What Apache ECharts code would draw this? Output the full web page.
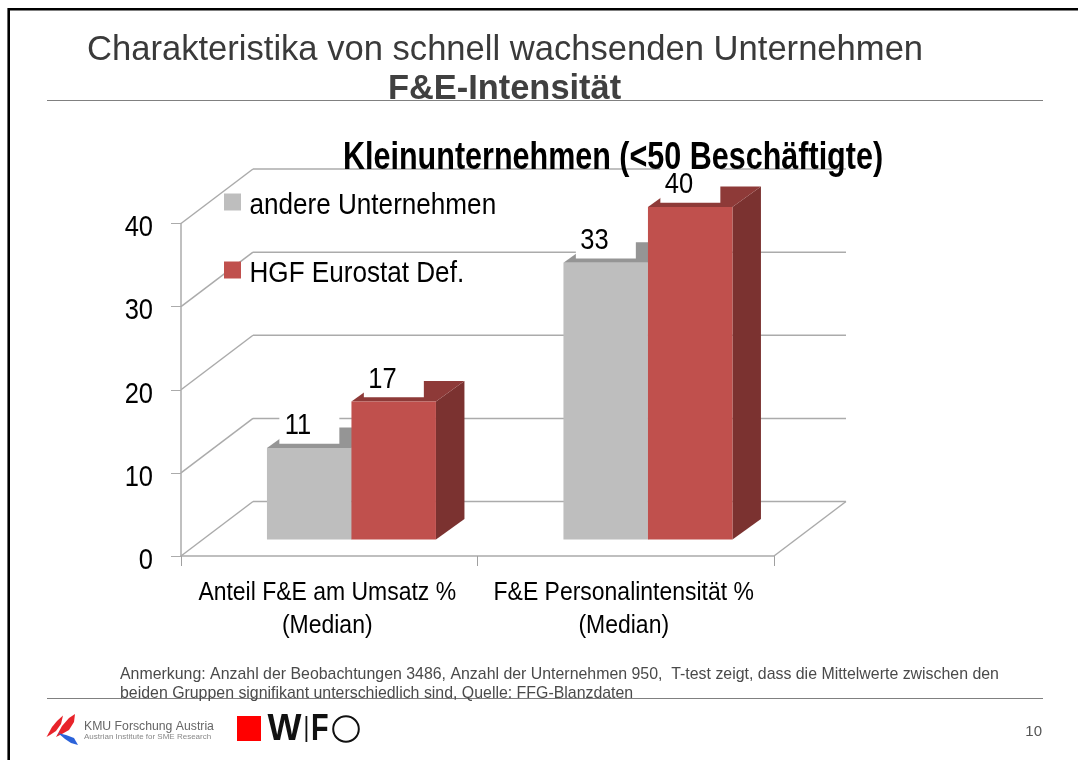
<!DOCTYPE html>
<html><head><meta charset="utf-8">
<style>html,body{margin:0;padding:0;background:#fff}#c{width:1078px;height:760px}</style>
<script src="https://cdn.jsdelivr.net/npm/echarts@6/dist/echarts.min.js"></script>
</head><body><div id="c"></div>
<script>
const categories = ['Anteil F&E am Umsatz %\n(Median)', 'F&E Personalintensität %\n(Median)'];
const seriesNames = ['andere Unternehmen', 'HGF Eurostat Def.'];
const andereUnternehmen = [11, 33.3];
const hgfEurostat = [16.6, 40];
const gridTicks = [0, 10, 20, 30, 40];
const chartTitle = 'Kleinunternehmen (<50 Beschäftigte)';
const SANS = '"Liberation Sans"';
const wall = {dx: 72, dy: -54.5};
const front = {dx: 22.2, dy: -16.5};
const depth = {dx: 28.5, dy: -20.5};
const barFrac = 0.285;

function poly(pts, fill) {
  return {type: 'polygon', shape: {points: pts}, style: {fill: fill}};
}
function barRender(offsetIdx, cFront, cTop, cSide) {
  return function (params, api) {
    const cat = api.value(0), val = api.value(1);
    const base = api.coord([cat, 0]);
    const top = api.coord([cat, val]);
    const w = api.size([1, 0])[0] * barFrac;
    const x0 = base[0] + front.dx + (offsetIdx - 1) * w;
    const x1 = x0 + w;
    const yb = base[1] + front.dy;
    const yt = top[1] + front.dy;
    const lx = x0 + 12.4, ly = yt - 4.3;
    return {type: 'group', children: [
      poly([[x1, yb], [x1 + depth.dx, yb + depth.dy], [x1 + depth.dx, yt + depth.dy], [x1, yt]], cSide),
      poly([[x0, yt], [x1, yt], [x1 + depth.dx, yt + depth.dy], [x0 + depth.dx, yt + depth.dy]], cTop),
      {type: 'rect', shape: {x: x0, y: yt, width: w, height: yb - yt}, style: {fill: cFront}},
      {type: 'rect', shape: {x: lx, y: ly - 36, width: 60, height: 36}, style: {fill: '#fff'}},
      {type: 'text', name: 'keep', x: x0 + 31, y: yt - 22, scaleX: 0.85, style: {x: 0, y: 0, text: String(Math.round(val)), fill: '#000',
        font: '30px ' + SANS, align: 'center', verticalAlign: 'middle'}}
    ]};
  };
}
const chart = echarts.init(document.getElementById('c'), null, {renderer: 'canvas'});
const stroke = {stroke: '#ababab', lineWidth: 1.5};
const T = (x, y, text, font, fill, align, sx) => ({type: 'text', name: 'keep', x: x, y: y, scaleX: sx || 1, style: {text: text, font: font, fill: fill || '#000', align: align || 'left', verticalAlign: 'middle'}});
chart.setOption({
  animation: false,
  backgroundColor: '#fff',
  title: {text: chartTitle, left: 338, top: 134,
    textStyle: {fontFamily: SANS, fontWeight: 'bold', fontSize: 38, color: '#000'}},
  legend: {orient: 'vertical', left: 219, top: 182, itemWidth: 17, itemHeight: 17, itemGap: 38, icon: 'rect',
    data: seriesNames,
    textStyle: {fontFamily: SANS, fontSize: 30, color: '#000', padding: [0, 0, 0, 4]}},
  grid: {left: 181, right: 304, top: 223.5, bottom: 204},
  xAxis: {type: 'category', data: categories,
    axisLine: {show: true, lineStyle: {color: '#ababab', width: 1.5}},
    axisTick: {show: true, length: 10, lineStyle: {color: '#a0a0a0'}},
    axisLabel: {interval: 0, fontFamily: SANS, fontSize: 26.4, color: '#000', margin: 20, lineHeight: 33}},
  yAxis: {type: 'value', min: 0, max: 40, interval: 10,
    axisLine: {show: true, lineStyle: {color: '#ababab', width: 1.5}},
    axisTick: {show: true, length: 10, lineStyle: {color: '#ababab'}},
    splitLine: {show: false},
    axisLabel: {fontFamily: SANS, fontSize: 30, color: '#000', margin: 28}},
  series: [
    {type: 'custom', name: 'walls', silent: true, z: 1, data: gridTicks.map(v => [0, v]), encode: {x: 0, y: 1},
      renderItem: function (p, api) {
        const v = api.value(1);
        const c = api.coord([0, v]);
        const band = api.size([1, 0])[0];
        const x = c[0] - band / 2, y = c[1], sz = band * categories.length;
        const children = [
          {type: 'line', shape: {x1: x, y1: y, x2: x + wall.dx, y2: y + wall.dy}, style: stroke},
          {type: 'line', shape: {x1: x + wall.dx, y1: y + wall.dy, x2: x + wall.dx + sz, y2: y + wall.dy}, style: stroke}
        ];
        if (v === 0) children.push({type: 'line', shape: {x1: x + sz, y1: y, x2: x + sz + wall.dx, y2: y + wall.dy}, style: stroke});
        return {type: 'group', children: children};
      }},
    {type: 'custom', name: seriesNames[0], z: 3, itemStyle: {color: '#BEBEBE'},
      data: andereUnternehmen.map((v, i) => [i, v]), encode: {x: 0, y: 1},
      renderItem: barRender(0, '#BEBEBE', '#959595', '#7f7f7f')},
    {type: 'custom', name: seriesNames[1], z: 4, itemStyle: {color: '#C0504D'},
      data: hgfEurostat.map((v, i) => [i, v]), encode: {x: 0, y: 1},
      renderItem: barRender(1, '#C0504D', '#8E3A38', '#7B3230')}
  ],
  graphic: {elements: [
    {type: 'line', shape: {x1: 8.7, y1: 8, x2: 8.7, y2: 760}, style: {stroke: '#000', lineWidth: 2.6}, silent: true},
    {type: 'line', shape: {x1: 8, y1: 9.2, x2: 1078, y2: 9.2}, style: {stroke: '#000', lineWidth: 2.6}, silent: true},
    T(87, 50, 'Charakteristika von schnell wachsenden Unternehmen', '34.6px ' + SANS, '#3a3a3a'),
    T(388, 90, 'F&E-Intensität', 'bold 34.4px ' + SANS, '#404040'),
    {type: 'line', shape: {x1: 47, y1: 100.5, x2: 1043, y2: 100.5}, style: {stroke: '#808080', lineWidth: 1}},
    {type: 'line', shape: {x1: 47, y1: 698.5, x2: 1043, y2: 698.5}, style: {stroke: '#808080', lineWidth: 1}},
    T(120, 674.5, 'Anmerkung: Anzahl der Beobachtungen 3486, Anzahl der Unternehmen 950,  T-test zeigt, dass die Mittelwerte zwischen den', '15.9px ' + SANS, '#4a4a4a'),
    T(120, 693.5, 'beiden Gruppen signifikant unterschiedlich sind, Quelle: FFG-Blanzdaten', '15.9px ' + SANS, '#4a4a4a'),
    T(1042, 732, '10', '15px ' + SANS, '#555', 'right'),
    {type: 'rect', shape: {x: 237, y: 716, width: 24, height: 25}, style: {fill: '#ff0000'}},
    T(267.5, 730, 'W', 'bold 36px ' + SANS, '#111'),
    {type: 'rect', shape: {x: 305.5, y: 716, width: 1.8, height: 26}, style: {fill: '#111'}},
    T(311, 730, 'F', 'bold 36px ' + SANS, '#111', 'left', 0.8),
    {type: 'circle', shape: {cx: 346, cy: 729, r: 12.8}, style: {fill: 'none', stroke: '#111', lineWidth: 2}},
    poly([[46.5, 737], [52, 727], [57, 721], [63, 715.5], [61, 724], [56, 731], [50, 735]], '#e8232a'),
    poly([[56, 737], [62, 726], [69, 718], [75, 714], [74, 722], [69, 730], [62, 734]], '#e8232a'),
    poly([[58, 733], [66, 735], [74, 738], [78, 745], [71, 743], [65, 739]], '#2b62d9'),
    T(84, 727, 'KMU Forschung Austria', '12px ' + SANS, '#666', 'left', 1.02),
    T(84, 737, 'Austrian Institute for SME Research', '8px ' + SANS, '#888')
  ]}
});
// Arial-Narrow look: no narrow face installed, so condense the native label text horizontally.
const condense = {};
condense[chartTitle] = {sx: 0.803, dx: 0, dy: 1};
seriesNames.forEach(s => condense[s] = {sx: 0.87, dx: 0, dy: 4});
categories.forEach(s => condense[s] = {sx: 0.87, dx: -2, dy: 0.5});
gridTicks.forEach(s => condense[String(s)] = {sx: 0.85, dx: 0, dy: 4.5});
const zr = chart.getZr();
zr.storage.traverse(function (el) {
  const t = el.style && el.style.text;
  const c = t !== undefined && condense[t];
  if (c && el.name !== 'keep' && el.type !== 'tspan' && !el.isGroup) {
    el.originX = el.style.x || 0;
    el.originY = el.style.y || 0;
    el.scaleX = c.sx;
    el.x += c.dx;
    el.y += c.dy;
    el.markRedraw();
  }
});
zr.refresh();
</script></body></html>
